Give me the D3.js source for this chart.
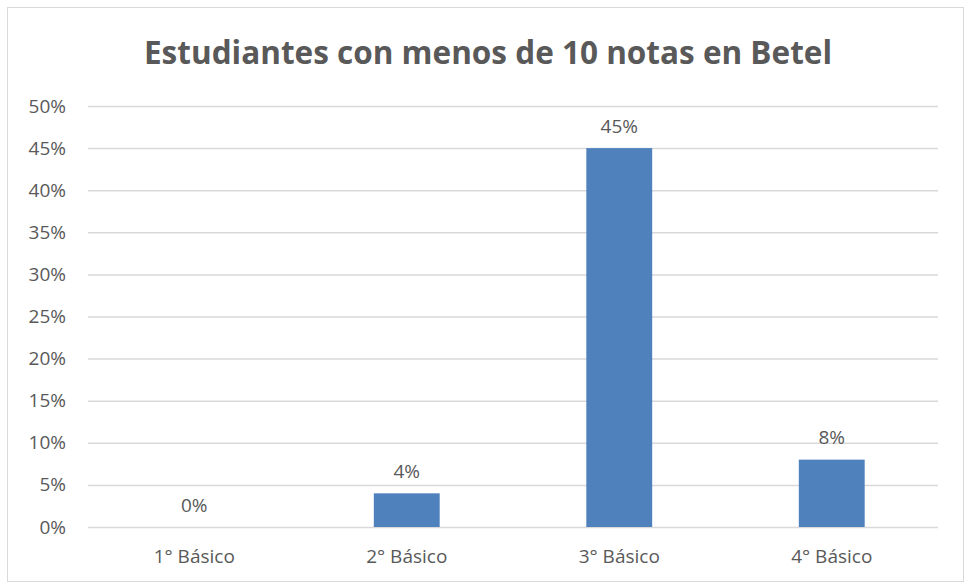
<!DOCTYPE html>
<html>
<head>
<meta charset="utf-8">
<script src="https://cdn.jsdelivr.net/npm/d3@7"></script>
<style>
  body { margin: 0; background: #fff; }
  text { font-family: "Open Sans", "Noto Sans", sans-serif; fill: #595959; }
</style>
</head>
<body>
<svg id="chart" width="970" height="587"></svg>
<script>
// chart data
var categories = ["1° Básico", "2° Básico", "3° Básico", "4° Básico"];
var values = [0, 4, 45, 8];
var yTicks = [0, 5, 10, 15, 20, 25, 30, 35, 40, 45, 50];
var title = "Estudiantes con menos de 10 notas en Betel";

var svg = d3.select("#chart");
var margin = {top: 106, right: 32, bottom: 60, left: 88},
    width = 970 - margin.left - margin.right,
    height = 527 - margin.top;

// outer chart border
svg.append("rect")
    .attr("x", 7.5).attr("y", 7.5)
    .attr("width", 956).attr("height", 574)
    .attr("fill", "#fff")
    .attr("stroke", "#d9d9d9");

svg.append("text")
    .attr("x", 488)
    .attr("y", 64)
    .attr("text-anchor", "middle")
    .style("font-size", "31.5px")
    .style("font-weight", "bold")
    .text(title);

var g = svg.append("g")
    .attr("transform", "translate(" + margin.left + "," + margin.top + ")");

var x = d3.scaleBand()
    .domain(categories)
    .range([0, width])
    .paddingInner(0.69)
    .paddingOuter(0.345);

var y = d3.scaleLinear()
    .domain([0, 50])
    .range([height, 0]);

// gridlines + y labels
var yAxis = g.append("g")
    .call(d3.axisLeft(y).tickValues(yTicks).tickSize(-width).tickPadding(22)
        .tickFormat(function(d){ return d + "%"; }));
yAxis.select(".domain").remove();
yAxis.selectAll("line").attr("stroke", "#d9d9d9").attr("stroke-width", 1.5);
yAxis.selectAll("text").style("font-size", "19px").style("fill", "#595959");

// x labels
var xAxis = g.append("g")
    .attr("transform", "translate(0," + height + ")")
    .call(d3.axisBottom(x).tickSize(0).tickPadding(23));
xAxis.select(".domain").remove();
xAxis.selectAll("text").style("font-size", "19px").style("fill", "#595959");

g.selectAll(".bar")
    .data(values)
    .enter().append("rect")
    .attr("class", "bar")
    .attr("x", function(d, i){ return x(categories[i]); })
    .attr("y", function(d){ return y(d); })
    .attr("width", x.bandwidth())
    .attr("height", function(d){ return height - y(d); })
    .attr("fill", "#4f81bd");

g.selectAll(".lbl")
    .data(values)
    .enter().append("text")
    .attr("class", "lbl")
    .attr("x", function(d, i){ return x(categories[i]) + x.bandwidth() / 2; })
    .attr("y", function(d){ return y(d) - 22; })
    .attr("dy", "0.35em")
    .attr("text-anchor", "middle")
    .style("font-size", "19px")
    .text(function(d){ return d + "%"; });
</script>
</body>
</html>
